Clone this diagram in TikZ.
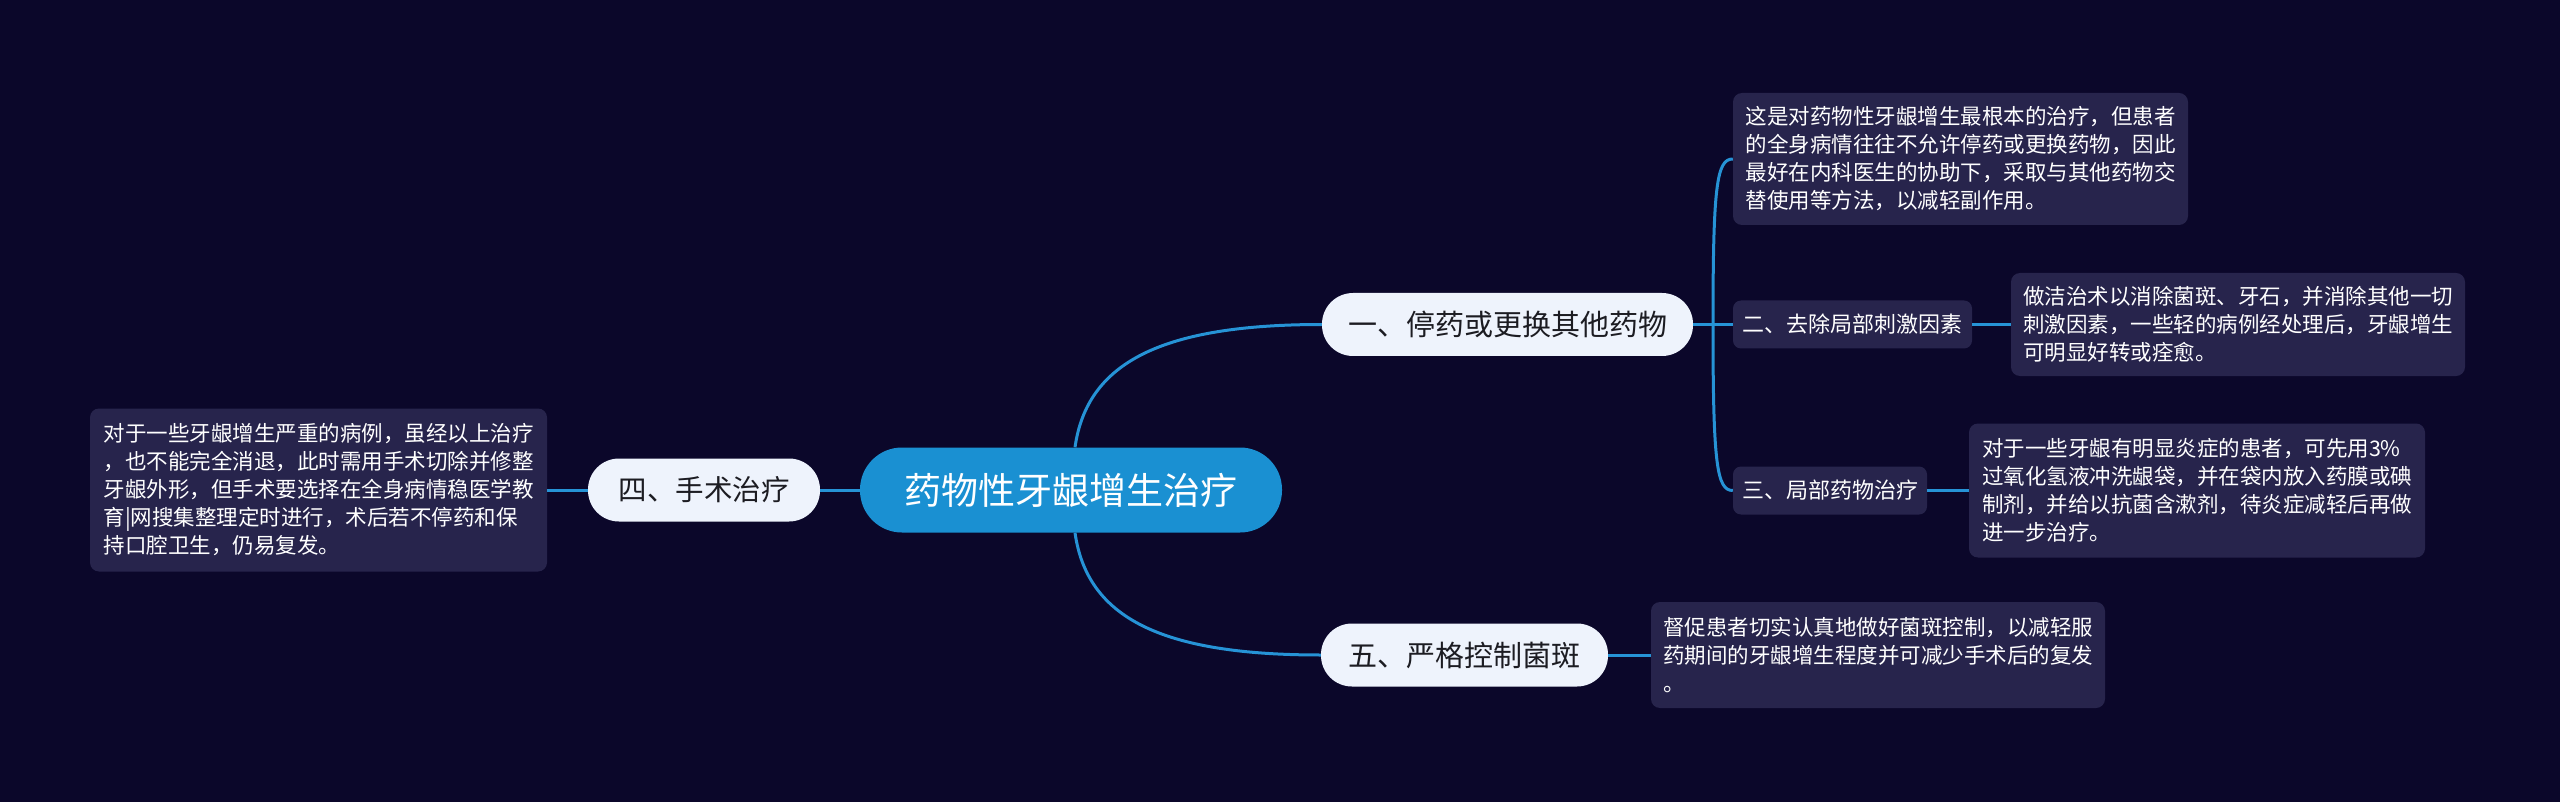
\documentclass[tikz,border=0pt]{standalone}
\usepackage{fontspec}
\newfontfamily\cjk{Noto Sans CJK SC}
\definecolor{bg}{RGB}{11,7,42}
\definecolor{rootc}{RGB}{26,144,210}
\definecolor{brc}{RGB}{238,243,252}
\definecolor{brtext}{RGB}{28,28,34}
\definecolor{boxc}{RGB}{39,36,76}
\definecolor{linec}{RGB}{38,147,214}
\begin{document}
\begin{tikzpicture}[x=1pt,y=-1pt,
  rootbox/.style={fill=rootc, text=white, rounded corners=42pt, minimum width=422pt, minimum height=85pt, inner sep=0pt, font=\cjk\fontsize{37}{44}\selectfont},
  branchbox/.style={fill=brc, text=brtext, rounded corners=31pt, minimum height=63pt, inner sep=0pt, font=\cjk\fontsize{29}{35}\selectfont},
  subbox/.style={fill=boxc, text=white, rounded corners=8pt, minimum height=48pt, inner sep=0pt, font=\cjk\fontsize{22}{28}\selectfont},
  notebox/.style={fill=boxc, text=white, rounded corners=9pt, inner sep=0pt, align=left, font=\cjk\fontsize{21.5}{28}\selectfont},
  linkline/.style={draw=linec, line width=3pt}
]
\fill[bg] (0,0) rectangle (2560,802);
\useasboundingbox (0,0) rectangle (2560,802);

\coordinate (j1) at (1713,324.5);

\node[rootbox] (root) at (1071,490) {药物性牙龈增生治疗};
\node[branchbox, minimum width=371pt] (n1) at (1507.5,324.5) {一、停药或更换其他药物};
\node[branchbox, minimum width=232pt, font=\cjk\fontsize{28.5}{34}\selectfont] (n4) at (704,490) {四、手术治疗};
\node[branchbox, minimum width=287pt] (n5) at (1464.5,655) {五、严格控制菌斑};
\node[subbox, minimum width=239pt] (n2) at (1852.5,324.5) {二、去除局部刺激因素};
\node[subbox, minimum width=194pt] (n3) at (1830,490.5) {三、局部药物治疗};

\node[notebox, minimum width=455pt, minimum height=132pt] (b1) at (1960.5,159) {这是对药物性牙龈增生最根本的治疗，但患者\\的全身病情往往不允许停药或更换药物，因此\\最好在内科医生的协助下，采取与其他药物交\\替使用等方法，以减轻副作用。};
\node[notebox, minimum width=454pt, minimum height=103pt] (b2) at (2238,324.5) {做洁治术以消除菌斑、牙石，并消除其他一切\\刺激因素，一些轻的病例经处理后，牙龈增生\\可明显好转或痊愈。};
\node[notebox, minimum width=456pt, minimum height=134pt] (b3) at (2197,490.5) {对于一些牙龈有明显炎症的患者，可先用3\%\\过氧化氢液冲洗龈袋，并在袋内放入药膜或碘\\制剂，并给以抗菌含漱剂，待炎症减轻后再做\\进一步治疗。};
\node[notebox, minimum width=457pt, minimum height=163pt] (b4) at (318.5,490) {对于一些牙龈增生严重的病例，虽经以上治疗\\，也不能完全消退，此时需用手术切除并修整\\牙龈外形，但手术要选择在全身病情稳医学教\\育|网搜集整理定时进行，术后若不停药和保\\持口腔卫生，仍易复发。};
\node[notebox, minimum width=454pt, minimum height=106pt] (b5) at (1878,655) {督促患者切实认真地做好菌斑控制，以减轻服\\药期间的牙龈增生程度并可减少手术后的复发\\。};

\draw[linkline] ([xshift=4pt]root.north) .. controls +(12,-85) and +(-160,0) .. (n1.west);
\draw[linkline] ([xshift=4pt]root.south) .. controls +(12,85) and +(-160,0) .. (n5.west);
\draw[linkline] (root.west) -- (n4.east);
\draw[linkline] (n4.west) -- (b4.east);
\draw[linkline] (n1.east) -- (n2.west);
\draw[linkline] (j1) .. controls +(0,-140) and +(-16,0) .. (b1.west);
\draw[linkline] (j1) .. controls +(0,140) and +(-16,0) .. (n3.west);
\draw[linkline] (n2.east) -- (b2.west);
\draw[linkline] (n3.east) -- (b3.west);
\draw[linkline] (n5.east) -- (b5.west);
\end{tikzpicture}
\end{document}
